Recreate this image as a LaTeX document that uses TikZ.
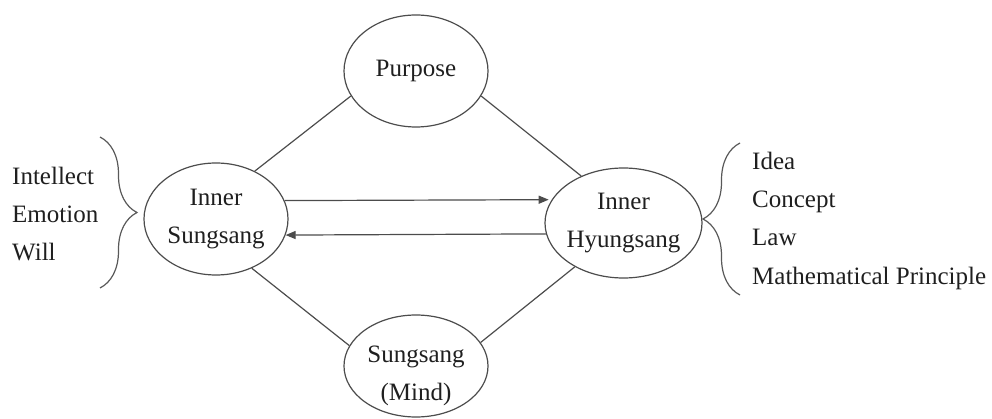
\documentclass[tikz,border=0pt]{standalone}
\usepackage{fontspec}
\IfFontExistsTF{LiberationSerif-Regular.ttf}
  {\setmainfont{LiberationSerif-Regular.ttf}}
  {\IfFontExistsTF{texgyretermes-regular.otf}
     {\setmainfont{texgyretermes-regular.otf}}
     {\setmainfont{Liberation Serif}}}
\usetikzlibrary{arrows.meta,decorations.pathreplacing,shapes.geometric}
\tikzset{
  txt/.style={inner sep=0pt, align=center, text=black!88, font=\rmfamily\fontsize{25}{38}\selectfont},
  oval/.style={ellipse, draw=black!70, line width=1.2pt, inner sep=0pt, align=center,
               text=black!88, font=\rmfamily\fontsize{25}{38}\selectfont},
  link/.style={draw=black!70, line width=1.2pt},
  arr/.style={link, -{Triangle[length=10pt,width=8pt]}},
  bracepath/.style={draw=black!65, line width=1.2pt,
                    decorate, decoration={brace, amplitude=37pt}},
  item/.style={anchor=base west, inner sep=0pt, text=black!88, font=\rmfamily\fontsize{25}{38}\selectfont}
}
\begin{document}
\begin{tikzpicture}[x=1pt,y=-1pt]
\useasboundingbox (0,0) rectangle (992,419);
% ellipses
\node[oval, minimum width=144pt, minimum height=112pt] (pur) at (416,71) {Purpose};
\node[oval, minimum width=144pt, minimum height=112pt] (isg) at (216,219) {Inner\\Sungsang};
\node[oval, minimum width=157pt, minimum height=110pt, inner xsep=-2pt] (ihs) at (623.5,223) {Inner\\Hyungsang};
\node[oval, minimum width=144pt, minimum height=102pt] (mind) at (416,366) {};
\node[txt, yshift=-10pt] (mindtxt) at (mind.center) {Sungsang\\(Mind)};
% connectors
\draw[link] (pur.201) -- (isg.51);
\draw[link] (pur.339) -- (ihs.132);
\draw[link] (isg.306.5) -- (mind.163);
\draw[link] (ihs.222) -- (mind.20.6);
\draw[arr, shorten >=3pt] (isg.15.6) -- (ihs.162.3);
\draw[arr] (ihs.188.9) -- (isg.347);
% braces
\coordinate (lbt) at (100,137);
\coordinate (lbb) at (100,288);
\coordinate (rbb) at (740,295);
\coordinate (rbt) at (740,143);
\draw[bracepath] (lbt) -- (lbb);
\draw[bracepath] (rbb) -- (rbt);
% left list
\node[item] (l1) at (12,185) {Intellect};
\node[item] (l2) at (12,223) {Emotion};
\node[item] (l3) at (12,261) {Will};
% right list
\node[item] (r1) at (752,170) {Idea};
\node[item] (r2) at (752,208) {Concept};
\node[item] (r3) at (752,246) {Law};
\node[item] (r4) at (752,284) {Mathematical Principle};
\end{tikzpicture}
\end{document}
